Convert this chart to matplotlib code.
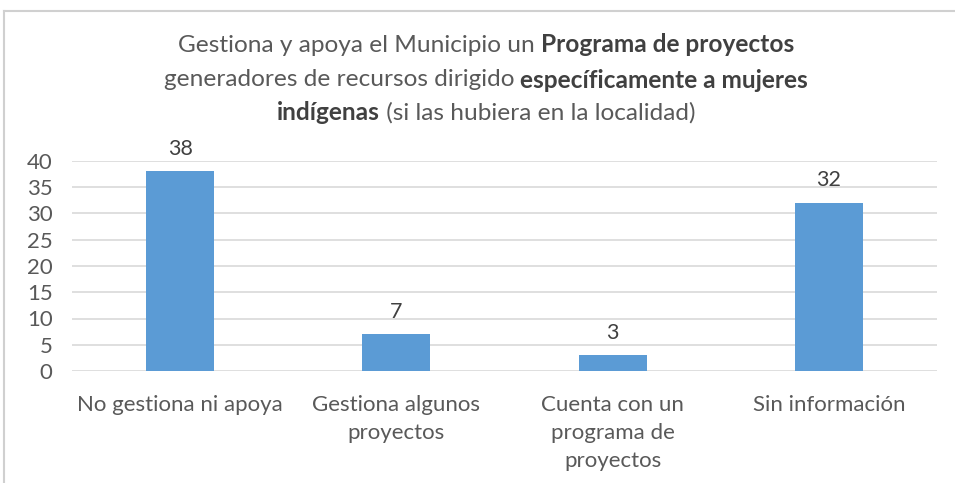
import numpy as np
import matplotlib.pyplot as plt
from matplotlib.lines import Line2D

categorias = ["No gestiona ni apoya", "Gestiona algunos\nproyectos",
              "Cuenta con un\nprograma de\nproyectos", "Sin información"]
valores = [38, 7, 3, 32]
yticks = [0, 5, 10, 15, 20, 25, 30, 35, 40]

# lineas del titulo: (texto, negrita)
titulo = [
    [("Gestiona y apoya el Municipio un ", False), ("Programa de proyectos", True)],
    [("generadores de recursos dirigido ", False), ("específicamente a mujeres", True)],
    [("indígenas", True), (" (si las hubiera en la localidad)", False)],
]

cinza = "#595959"
azul = "#5B9BD5"
fonte = "Lato"

plt.rcParams['font.family'] = fonte

fig = plt.figure(figsize=(9.55, 4.83), dpi=100)
ax = fig.add_axes([72/955, 1-371/483, 865/955, 210/483])

x = np.arange(len(categorias))
barras = ax.bar(x, valores, width=0.315, color=azul, zorder=3)
for b, v in zip(barras, valores):
    ax.annotate(str(v), (b.get_x()+b.get_width()/2, v), xytext=(0, 9),
                textcoords="offset points", ha="center", va="bottom",
                fontsize=15.5, color="#404040")

ax.set_xlim(-0.5, len(categorias)-0.5)
ax.set_ylim(0, 40)
ax.set_yticks(yticks)
ax.set_xticks(x)
ax.set_xticklabels(categorias, linespacing=1.5)
ax.tick_params(axis="both", length=0, labelsize=16, labelcolor=cinza)
ax.tick_params(axis="x", pad=17)
ax.tick_params(axis="y", pad=14)
ax.grid(axis="y", color="#D9D9D9", linewidth=1.2, zorder=0)
for s in ax.spines.values():
    s.set_visible(False)

# borda da figura (topo e esquerda)
fig.add_artist(Line2D([4/955, 1], [1-11/483, 1-11/483], color="#D0D0D0", lw=1.5))
fig.add_artist(Line2D([4/955, 4/955], [0, 1-11/483], color="#D0D0D0", lw=1.5))

# titulo com partes em negrito
fig.canvas.draw()
r = fig.canvas.get_renderer()
ys = [45, 80, 113]
for linha, yp in zip(titulo, ys):
    partes = []
    for txt, neg in linha:
        t = fig.text(0, 1-yp/483, txt, fontsize=17.6, color=cinza if not neg else "#404040",
                     fontweight="bold" if neg else "normal", va="center", ha="left")
        partes.append(t)
    larg = [p.get_window_extent(r).width for p in partes]
    x0 = (486 - sum(larg)/2)
    for p, w in zip(partes, larg):
        p.set_x(x0/955)
        x0 += w

fig.savefig("out.png", dpi=100)
